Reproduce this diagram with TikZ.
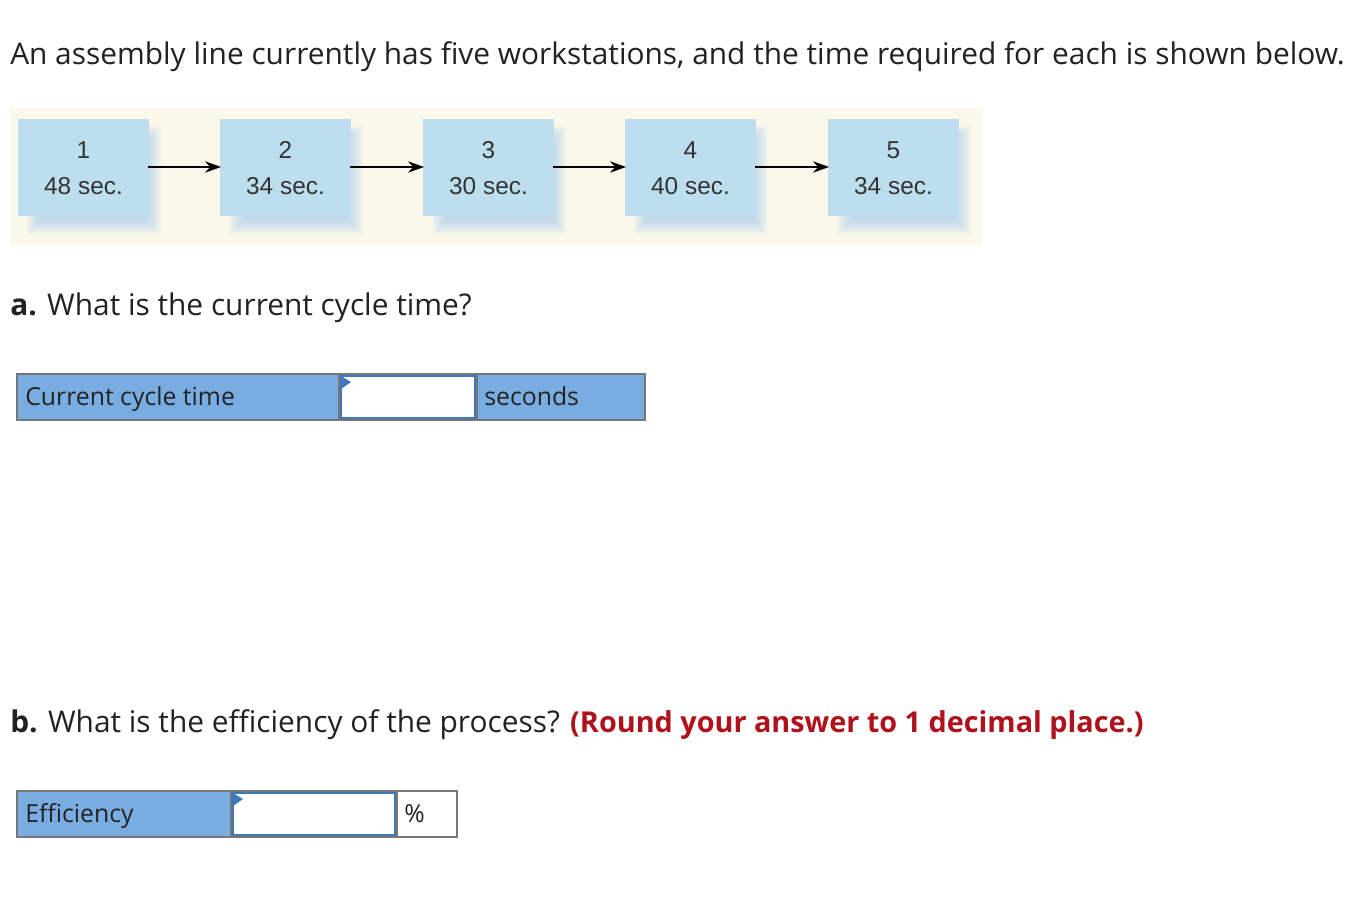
\documentclass[tikz,border=0pt]{standalone}
\usepackage{fontspec}
\setmainfont{Open Sans}
\newfontfamily\stationfont{Liberation Sans}
\usetikzlibrary{arrows.meta}
\definecolor{bgbeige}{HTML}{FAF7EB}
\definecolor{boxblue}{HTML}{BDDEEE}
\definecolor{shadowblue}{HTML}{A9D0EA}
\definecolor{cellblue}{HTML}{79ADE2}
\definecolor{cellgray}{HTML}{777777}
\definecolor{inblue}{HTML}{3E77BC}
\definecolor{ansred}{HTML}{B0121B}
\definecolor{txt}{HTML}{222222}
\definecolor{boxtxt}{HTML}{333333}
\tikzset{
  maintext/.style={anchor=base west, inner sep=0, text=txt, font=\fontsize{22.4}{26}\selectfont},
  celltext/.style={anchor=base west, inner sep=0, text=txt, font=\fontsize{18.6}{22}\selectfont},
  stationtext/.style={align=center, text=boxtxt, font=\stationfont\fontsize{18.3}{27}\selectfont, inner sep=0},
  flow/.style={-{Stealth[length=12pt,width=8.5pt]}, line width=1.5pt, black},
  cellframe/.style={draw=cellgray, line width=1.5pt},
  inframe/.style={draw=inblue, line width=2pt, fill=white},
}
\begin{document}
\begin{tikzpicture}[x=0.75pt,y=-0.75pt]
\useasboundingbox[fill=white] (0,0) rectangle (1362,900);

\node[maintext] (title) at (10,64) {An assembly line currently has five workstations, and the time required for each is shown below.};

% diagram background
\fill[bgbeige] (10,108) rectangle (982,245);

% stations
\foreach \i/\xa/\t in {1/18/48,2/220/34,3/423/30,4/625/40,5/828/34}{
  \foreach \k in {0,...,15}{
    \fill[shadowblue, opacity=0.065] (\xa+24-\k,141-\k) rectangle (\xa+128+\k,219+\k);
  }
  \fill[boxblue] (\xa,119) rectangle (\xa+131,216);
  \node[stationtext] (s\i) at (\xa+65.5,168) {\i\\\t\ sec.};
  \coordinate (e\i) at (\xa+130,167);
  \coordinate (w\i) at (\xa+1,167);
}
\draw[flow] (e1) -- (w2);
\draw[flow] (e2) -- (w3);
\draw[flow] (e3) -- (w4);
\draw[flow] (e4) -- (w5);

% part a
\node[maintext] (qa) at (10,315) {\textbf{a.} What is the current cycle time?};
\fill[cellblue] (17,374) rectangle (645,420);
\draw[cellframe] (17,374) rectangle (645,420);
\draw[cellframe] (339,374) -- (339,420);
\draw[cellframe] (477,374) -- (477,420);
\draw[inframe] (341,376) rectangle (475,418);
\fill[inblue] (341,376) -- (351,382) -- (341,389) -- cycle;
\node[celltext] (la) at (25,405) {Current cycle time};
\node[celltext] (ua) at (484,405) {seconds};

% part b
\node[maintext] (qb) at (10,732) {\textbf{b.} What is the efficiency of the process? \textcolor{ansred}{\fontsize{21.6}{26}\selectfont\textbf{(Round your answer to 1 decimal place.)}}};
\fill[cellblue] (17,791) rectangle (231,837);
\fill[white] (231,791) rectangle (457,837);
\draw[cellframe] (17,791) rectangle (457,837);
\draw[cellframe] (231,791) -- (231,837);
\draw[cellframe] (397,791) -- (397,837);
\draw[inframe] (233,793) rectangle (395,835);
\fill[inblue] (233,793) -- (243,799) -- (233,806) -- cycle;
\node[celltext] (lb) at (25,822) {Efficiency};
\node[celltext] (ub) at (404,822) {\%};
\end{tikzpicture}
\end{document}
